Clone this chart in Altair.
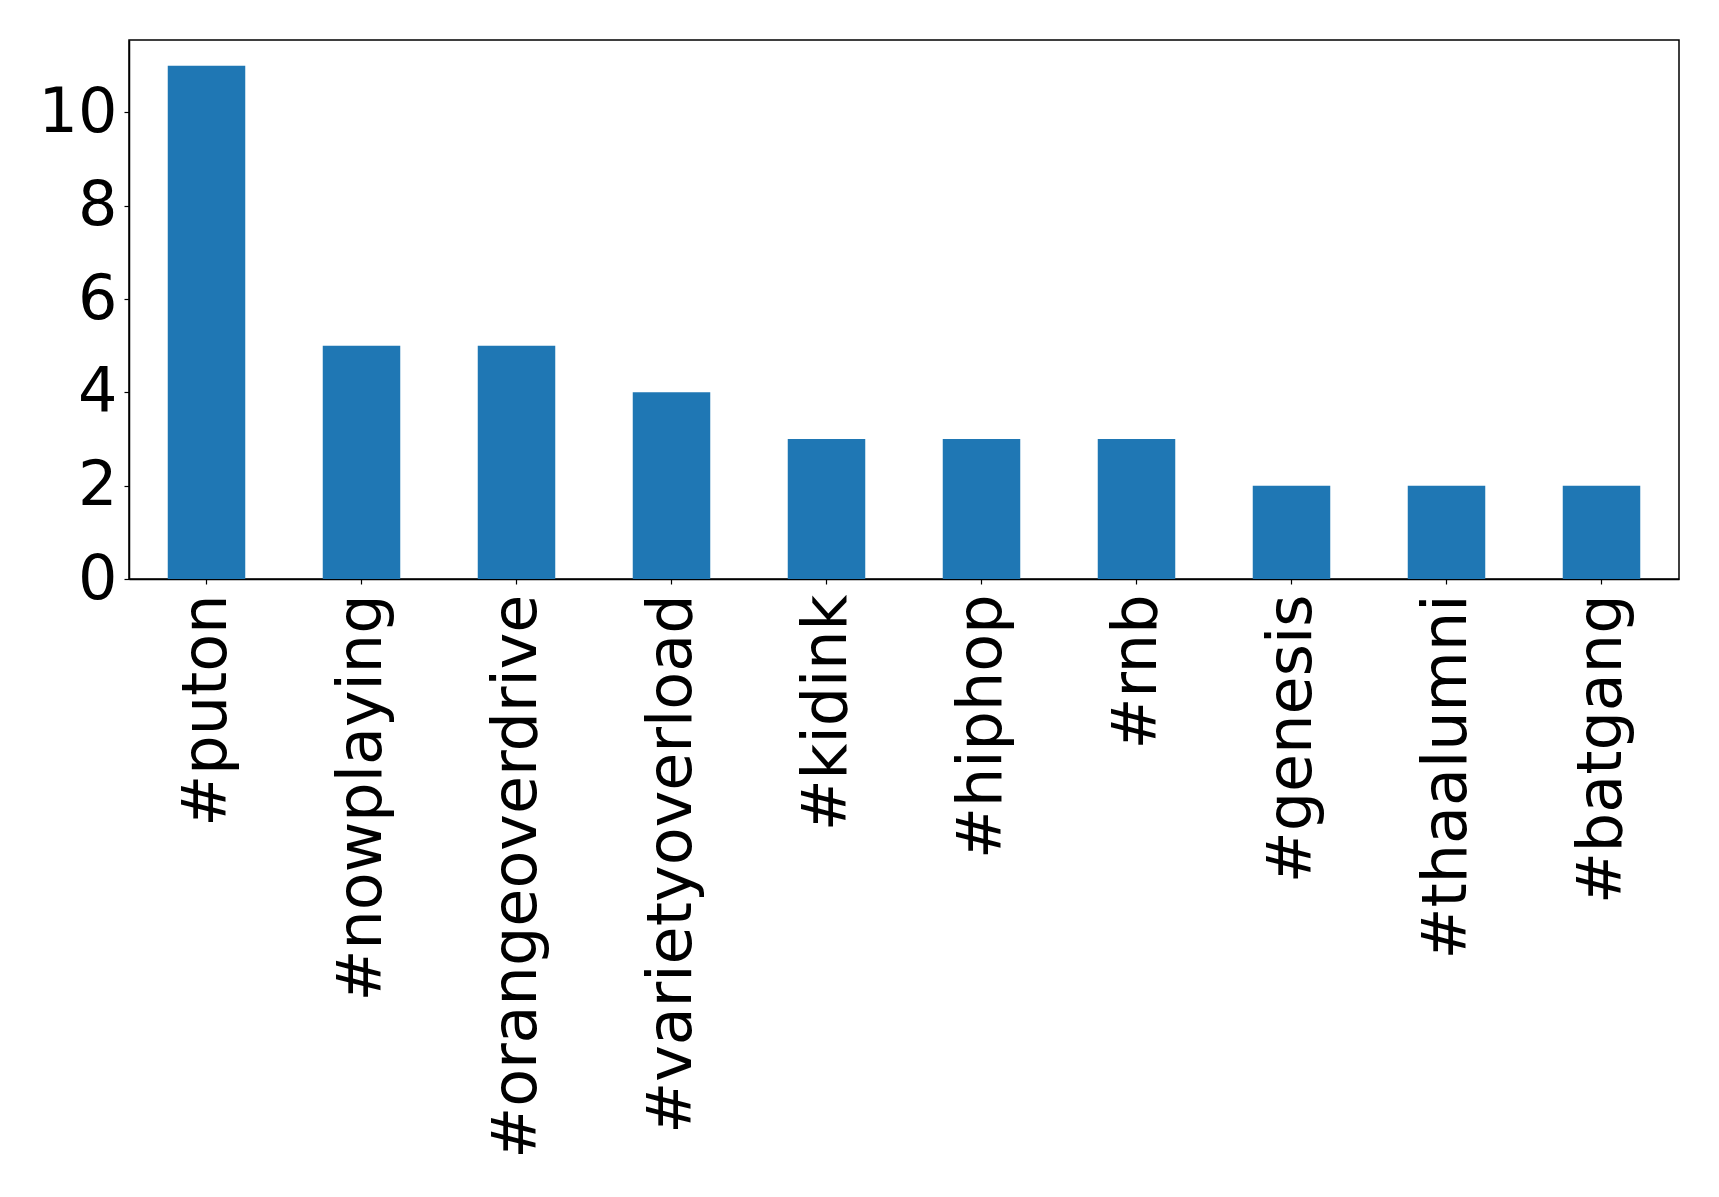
import altair as alt
import pandas as pd

hashtags = ["#puton", "#nowplaying", "#orangeoverdrive", "#varietyoverload",
            "#kidink", "#hiphop", "#rnb", "#genesis", "#thaalumni", "#batgang"]
counts = [11, 5, 5, 4, 3, 3, 3, 2, 2, 2]
y_ticks = [0, 2, 4, 6, 8, 10]

df = pd.DataFrame({"hashtag": hashtags, "count": counts})

FONT = "DejaVu Sans"

chart = alt.Chart(df).mark_bar(color="#1f77b4").encode(
    x=alt.X("hashtag:N", sort=hashtags, title=None,
            scale=alt.Scale(paddingInner=0.5, paddingOuter=0.25),
            axis=alt.Axis(labelAngle=-90, labelAlign="right", labelBaseline="middle",
                          labelFontSize=62, labelFont=FONT, labelColor="black",
                          labelLimit=2000, labelPadding=10, tickSize=5, tickColor="black",
                          domainColor="black", domainWidth=1.5, tickWidth=1.2)),
    y=alt.Y("count:Q", title=None,
            scale=alt.Scale(domain=[0, 11.55], nice=False, zero=True),
            axis=alt.Axis(values=y_ticks, grid=False, labelFontSize=62, labelFont=FONT,
                          labelColor="black", labelPadding=7, tickSize=5,
                          tickColor="black", domainColor="black", domainWidth=1.5,
                          tickWidth=1.2)),
).properties(
    width=1550, height=539,
    background="white",
    autosize=alt.AutoSizeParams(type="none"),
    padding={"left": 129, "top": 40, "right": 40, "bottom": 618},
).configure_view(
    stroke="black", strokeWidth=1.5
)

chart.save("out.html", embed_options={"renderer": "svg", "actions": False})
